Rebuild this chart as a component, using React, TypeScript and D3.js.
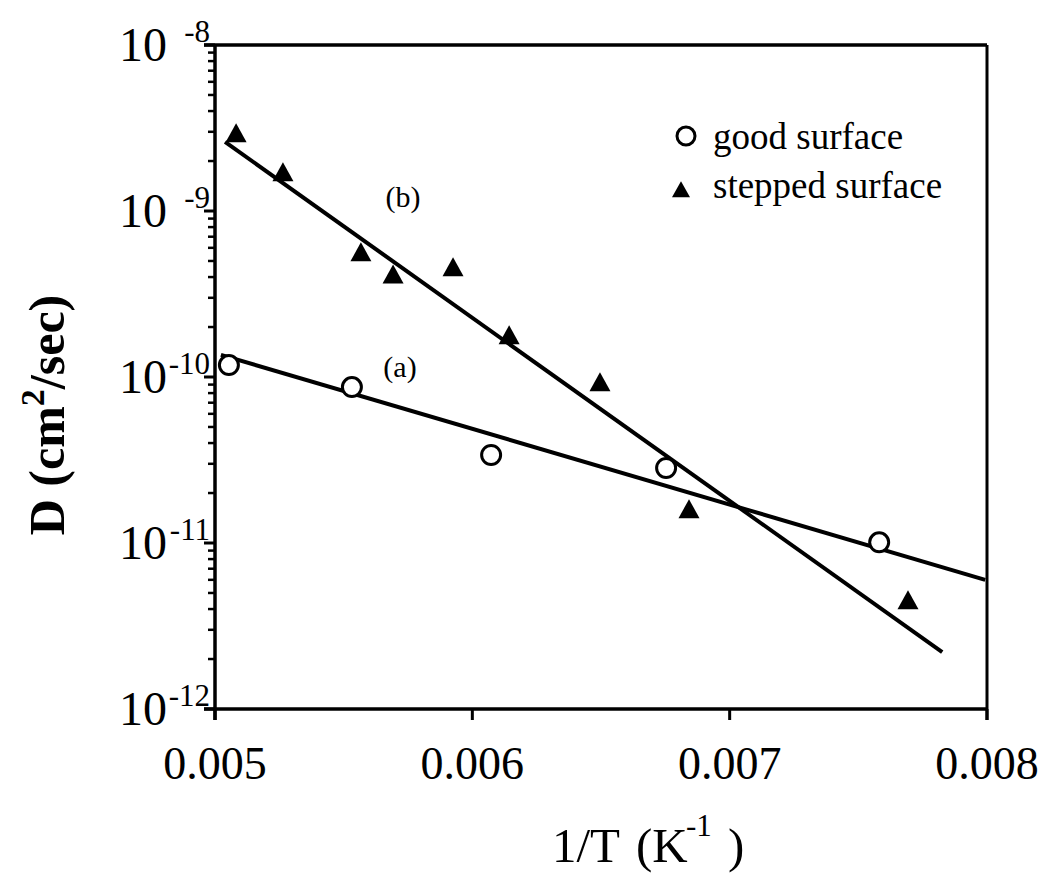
import React from "react";
import * as d3 from "d3";

// Diffusion coefficient vs inverse temperature
const goodX = [0.005054, 0.005532, 0.006073, 0.006753, 0.007581];
const goodD = [1.18e-10, 8.7e-11, 3.39e-11, 2.83e-11, 1.01e-11];

const steppedX = [0.005082, 0.005264, 0.005567, 0.005692, 0.005925, 0.006143, 0.006496, 0.006842, 0.007693];
const steppedD = [2.83e-9, 1.65e-9, 5.43e-10, 4.0e-10, 4.41e-10, 1.72e-10, 8.95e-11, 1.54e-11, 4.36e-12];

// Arrhenius fit lines (end points)
const fitAX = [0.005023, 0.007993];
const fitAD = [1.36e-10, 6.0e-12];
const fitBX = [0.005039, 0.007826];
const fitBD = [2.61e-9, 2.2e-12];

const xTicks = [0.005, 0.006, 0.007, 0.008];
const xTickLabels = ["0.005", "0.006", "0.007", "0.008"];
const yExponents = [-8, -9, -10, -11, -12];

const W = 1045;
const H = 887;
const left = 215;
const right = 987;
const top = 45;
const bottom = 709;
const FONT = "'Liberation Serif', 'Times New Roman', serif";

export default function App() {
  const x = d3.scaleLinear().domain([0.005, 0.008]).range([left, right]);
  const y = d3.scaleLog().domain([1e-12, 1e-8]).range([bottom, top]);

  const line = d3
    .line<[number, number]>()
    .x((d) => x(d[0]))
    .y((d) => y(d[1]));

  const fitA: [number, number][] = fitAX.map((v, i) => [v, fitAD[i]]);
  const fitB: [number, number][] = fitBX.map((v, i) => [v, fitBD[i]]);

  // minor log ticks 2..9 within each decade
  const minor: number[] = [];
  for (let e = -12; e < -8; e++) {
    for (let m = 2; m <= 9; m++) minor.push(m * Math.pow(10, e));
  }

  const tri = (cx: number, cy: number, w: number, h: number) =>
    `M${cx},${cy - (2 * h) / 3} L${cx + w / 2},${cy + h / 3} L${cx - w / 2},${cy + h / 3} Z`;

  const stroke = "#000";

  return (
    <svg
      width={W}
      height={H}
      style={{ position: "absolute", left: 0, top: 0, background: "#fff" }}
      fontFamily={FONT}
    >
      <rect x={0} y={0} width={W} height={H} fill="#fff" />

      {/* frame */}
      <line x1={left - 11} x2={right} y1={top} y2={top} stroke={stroke} strokeWidth={3.5} />
      <line x1={left - 11} x2={right} y1={bottom} y2={bottom} stroke={stroke} strokeWidth={3.5} />
      <line x1={left} x2={left} y1={top} y2={bottom + 11} stroke={stroke} strokeWidth={3.5} />
      <line x1={right} x2={right} y1={top} y2={bottom + 11} stroke={stroke} strokeWidth={3} />

      {/* x ticks */}
      {xTicks.map((t, i) => (
        <g key={"xt" + i}>
          <line x1={x(t)} x2={x(t)} y1={bottom} y2={bottom + 11} stroke={stroke} strokeWidth={3} />
          <text x={x(t)} y={779} fontSize={46} textAnchor="middle">
            {xTickLabels[i]}
          </text>
        </g>
      ))}

      {/* y ticks */}
      {yExponents.map((e) => (
        <g key={"ye" + e}>
          <line x1={left - 11} x2={left} y1={y(Math.pow(10, e))} y2={y(Math.pow(10, e))} stroke={stroke} strokeWidth={3} />
          <text x={167} y={y(Math.pow(10, e)) + 16} fontSize={48} textAnchor="end">
            10
          </text>
          <text x={210} y={y(Math.pow(10, e)) - 3} fontSize={31} textAnchor="end">
            {String(e)}
          </text>
        </g>
      ))}
      {minor.map((v, i) => (
        <line key={"mn" + i} x1={left - 7} x2={left} y1={y(v)} y2={y(v)} stroke={stroke} strokeWidth={2.5} />
      ))}

      {/* axis titles */}
      <text y={862} fontSize={49}>
        <tspan x={552}>1/T</tspan>
        <tspan x={636}>(K</tspan>
        <tspan x={686} y={836} fontSize={31}>-1</tspan>
        <tspan x={728} y={862}>)</tspan>
      </text>
      <text
        transform={`translate(64, 415) rotate(-90)`}
        fontSize={50}
        fontWeight="bold"
        textAnchor="middle"
      >
        <tspan>D (cm</tspan>
        <tspan dy={-20} fontSize={34}>2</tspan>
        <tspan dy={20}>/sec)</tspan>
      </text>

      {/* fit lines */}
      <path d={line(fitA) || ""} fill="none" stroke={stroke} strokeWidth={4} />
      <path d={line(fitB) || ""} fill="none" stroke={stroke} strokeWidth={4} />

      {/* good surface */}
      {goodX.map((v, i) => (
        <circle key={"g" + i} cx={x(v)} cy={y(goodD[i])} r={9.5} fill="#fff" stroke={stroke} strokeWidth={3} />
      ))}
      {/* stepped surface */}
      {steppedX.map((v, i) => (
        <path key={"s" + i} d={tri(x(v), y(steppedD[i]), 21, 19)} fill={stroke} />
      ))}

      {/* line labels */}
      <text x={403} y={207} fontSize={30} textAnchor="middle">(b)</text>
      <text x={400} y={377} fontSize={30} textAnchor="middle">(a)</text>

      {/* legend */}
      <circle cx={686} cy={136} r={9} fill="#fff" stroke={stroke} strokeWidth={3} />
      <text x={713} y={149} fontSize={37}>good surface</text>
      <path d={tri(681, 192, 18, 16)} fill={stroke} />
      <text x={713} y={198} fontSize={37}>stepped surface</text>
    </svg>
  );
}
